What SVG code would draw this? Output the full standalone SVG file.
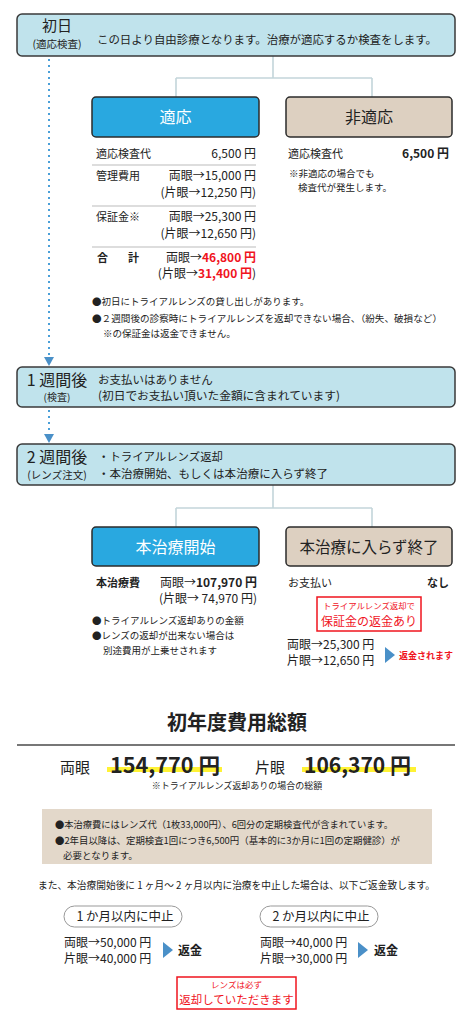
<svg xmlns="http://www.w3.org/2000/svg" width="474" height="1024" viewBox="0 0 474 1024">
<defs>
<style>
text{font-family:"Noto Sans CJK JP","Noto Sans",sans-serif;fill:#222;}
.step{fill:#c0e3ec;stroke:#3a3a3a;stroke-width:1.5;}
.blue{fill:#29a8e0;stroke:#2b2b2b;stroke-width:1.5;}
.beigebox{fill:#ddd0c1;stroke:#2b2b2b;stroke-width:1.5;}
.conn{stroke:#c3d5da;stroke-width:1.6;fill:none;}
.dot{stroke:#4a9fd8;stroke-width:2;stroke-dasharray:2 4;fill:none;}
.tri{fill:#4a90c8;}
.sep{stroke:#bbbbbb;stroke-width:1;}
.s11{font-size:11px;}
.n12{font-size:12px;}
.s10{font-size:9.5px;}
.red{fill:#f0141e;}
.b{font-weight:bold;}
.redbox{fill:#fff;stroke:#f0141e;stroke-width:1.5;}
</style>
</defs>
<rect width="474" height="1024" fill="#fff"/>

<g id="connectors">
<line class="dot" x1="49" y1="59" x2="49" y2="357"/>
<polygon class="tri" points="44,357 54,357 49,366"/>
<line class="dot" x1="49" y1="410" x2="49" y2="434"/>
<polygon class="tri" points="44,434 54,434 49,443"/>
<path class="conn" d="M273,56 V78 M176,78 H372 M176,78 V97 M372,78 V97"/>
<path class="conn" d="M273,485 V508 M176,508 H372 M176,508 V527 M372,508 V527"/>
</g>

<g id="day1">
<rect class="step" x="17" y="14" width="438" height="42" rx="5"/>
<text x="57" y="31" text-anchor="middle" font-size="15">初日</text>
<text x="57" y="48" text-anchor="middle" font-size="10.5">(適応検査)</text>
<text x="97" y="44" font-size="11.3" textLength="340" lengthAdjust="spacingAndGlyphs">この日より自由診療となります。治療が適応するか検査をします。</text>
</g>

<g id="tekiou">
<rect class="blue" x="92" y="97" width="167" height="40" rx="4"/>
<text x="175.5" y="123" text-anchor="middle" font-size="16" style="fill:#fff">適応</text>
<text class="s11" x="96" y="158">適応検査代</text>
<text class="n12" x="256" y="158" text-anchor="end">6,500 円</text>
<line class="sep" x1="92" y1="165" x2="256" y2="165"/>
<text class="s11" x="96" y="180">管理費用</text>
<text class="n12" x="256" y="180" text-anchor="end">両眼→15,000 円</text>
<text class="n12" x="256" y="197" text-anchor="end">(片眼→12,250 円)</text>
<line class="sep" x1="92" y1="206" x2="256" y2="206"/>
<text class="s11" x="96" y="221">保証金※</text>
<text class="n12" x="256" y="221" text-anchor="end">両眼→25,300 円</text>
<text class="n12" x="256" y="238" text-anchor="end">(片眼→12,650 円)</text>
<line class="sep" x1="92" y1="247" x2="256" y2="247"/>
<text class="s11 b" x="97" y="262">合</text>
<text class="s11 b" x="128" y="262">計</text>
<text class="n12" x="256" y="262" text-anchor="end">両眼→<tspan class="red b">46,800 円</tspan></text>
<text class="n12" x="256" y="278" text-anchor="end">(片眼→<tspan class="red b">31,400 円</tspan>)</text>
</g>

<g id="hitekiou">
<rect class="beigebox" x="286" y="97" width="166" height="40" rx="4"/>
<text x="369" y="123" text-anchor="middle" font-size="16">非適応</text>
<text class="s11" x="288" y="158">適応検査代</text>
<text class="n12 b" x="449" y="158" text-anchor="end">6,500 円</text>
<text class="s10" x="289" y="177">※非適応の場合でも</text>
<text class="s10" x="298" y="191">検査代が発生します。</text>
</g>

<g id="notes1">
<text class="s10" x="92" y="305">●初日にトライアルレンズの貸し出しがあります。</text>
<text class="s10" x="92" y="322" textLength="350" lengthAdjust="spacingAndGlyphs">●２週間後の診察時にトライアルレンズを返却できない場合、（紛失、破損など）</text>
<text class="s10" x="103" y="337">※の保証金は返金できません。</text>
</g>

<g id="week1">
<rect class="step" x="17" y="367" width="438" height="40" rx="5"/>
<text x="57" y="386" text-anchor="middle" font-size="16">1 週間後</text>
<text x="57" y="401" text-anchor="middle" font-size="10">(検査)</text>
<text x="98" y="384" font-size="11.5">お支払いはありません</text>
<text x="98" y="400" font-size="11.5" textLength="242" lengthAdjust="spacingAndGlyphs">(初日でお支払い頂いた金額に含まれています)</text>
</g>

<g id="week2">
<rect class="step" x="17" y="444" width="438" height="41" rx="5"/>
<text x="57" y="463" text-anchor="middle" font-size="16">2 週間後</text>
<text x="57" y="479" text-anchor="middle" font-size="10.5">(レンズ注文)</text>
<text x="98" y="461" font-size="11.4">・トライアルレンズ返却</text>
<text x="98" y="478" font-size="11.4" textLength="230" lengthAdjust="spacingAndGlyphs">・本治療開始、もしくは本治療に入らず終了</text>
</g>

<g id="start">
<rect class="blue" x="92" y="527" width="167" height="39" rx="4"/>
<text x="175.5" y="553" text-anchor="middle" font-size="16" style="fill:#fff">本治療開始</text>
<text class="s11 b" x="96" y="587">本治療費</text>
<text class="n12" x="257" y="587" text-anchor="end">両眼→<tspan class="b">107,970 円</tspan></text>
<text class="n12" x="257" y="603" text-anchor="end">(片眼→ 74,970 円)</text>
<text class="s10" x="92" y="624">●トライアルレンズ返却ありの金額</text>
<text class="s10" x="92" y="639">●レンズの返却が出来ない場合は</text>
<text class="s10" x="103" y="654">別途費用が上乗せされます</text>
</g>

<g id="end">
<rect class="beigebox" x="286" y="527" width="166" height="39" rx="4"/>
<text x="369" y="553" text-anchor="middle" font-size="15.5">本治療に入らず終了</text>
<text class="s11" x="288" y="587">お支払い</text>
<text class="s11 b" x="449" y="587" text-anchor="end">なし</text>
<rect class="redbox" x="317" y="597" width="104" height="34"/>
<text class="red" x="369" y="609" text-anchor="middle" font-size="8.4">トライアルレンズ返却で</text>
<text class="red" x="369" y="626" text-anchor="middle" font-size="12">保証金の返金あり</text>
<text x="287" y="649" font-size="12">両眼→25,300 円</text>
<text x="287" y="665" font-size="12">片眼→12,650 円</text>
<polygon class="tri" points="385,647 395,655 385,663"/>
<text class="red b" x="399" y="659" font-size="9">返金されます</text>
</g>

<g id="total">
<text x="237" y="730" text-anchor="middle" font-size="20" font-weight="bold">初年度費用総額</text>
<line x1="17" y1="745" x2="455" y2="745" stroke="#777" stroke-width="2"/>
<text x="60" y="773" font-size="15">両眼</text>
<rect x="107" y="767" width="115" height="5" fill="#fff235"/>
<text x="110" y="773" font-size="21" font-weight="bold" textLength="110" lengthAdjust="spacingAndGlyphs">154,770 円</text>
<text x="255" y="773" font-size="15">片眼</text>
<rect x="302" y="767" width="114" height="5" fill="#fff235"/>
<text x="304" y="773" font-size="21" font-weight="bold" textLength="107" lengthAdjust="spacingAndGlyphs">106,370 円</text>
<text x="237" y="789" text-anchor="middle" font-size="9">※トライアルレンズ返却ありの場合の総額</text>
</g>

<g id="info">
<rect x="42" y="809" width="390" height="55" fill="#e3d8ca"/>
<text x="55" y="828" font-size="9.5" textLength="338" lengthAdjust="spacingAndGlyphs">●本治療費にはレンズ代（1枚33,000円）、6回分の定期検査代が含まれています。</text>
<text x="55" y="844" font-size="9.5" textLength="345" lengthAdjust="spacingAndGlyphs">●2年目以降は、定期検査1回につき6,500円（基本的に3か月に1回の定期健診）が</text>
<text x="63" y="859" font-size="9.5">必要となります。</text>
</g>

<g id="refund">
<text x="38" y="889" font-size="10" textLength="397" lengthAdjust="spacingAndGlyphs">また、本治療開始後に 1 ヶ月～ 2 ヶ月以内に治療を中止した場合は、以下ご返金致します。</text>
</g>

<g id="month1">
<rect x="64" y="906" width="118" height="21" rx="10.5" fill="#fff" stroke="#999" stroke-width="1"/>
<text x="125" y="921" text-anchor="middle" font-size="12.5">1 か月以内に中止</text>
<text x="64" y="947" font-size="12">両眼→50,000 円</text>
<text x="64" y="963" font-size="12">片眼→40,000 円</text>
<polygon class="tri" points="163,942 173,950 163,958"/>
<text class="b" x="178" y="955" font-size="12">返金</text>
</g>

<g id="month2">
<rect x="260" y="906" width="118" height="21" rx="10.5" fill="#fff" stroke="#999" stroke-width="1"/>
<text x="321" y="921" text-anchor="middle" font-size="12.5">2 か月以内に中止</text>
<text x="260" y="947" font-size="12">両眼→40,000 円</text>
<text x="260" y="963" font-size="12">片眼→30,000 円</text>
<polygon class="tri" points="358,942 368,950 358,958"/>
<text class="b" x="374" y="955" font-size="12">返金</text>
</g>

<g id="lensnote">
<rect class="redbox" x="177" y="977" width="119" height="32"/>
<text class="red" x="236.5" y="988" text-anchor="middle" font-size="8.5">レンズは必ず</text>
<text class="red" x="236.5" y="1004" text-anchor="middle" font-size="11.5">返却していただきます</text>
</g>
</svg>
